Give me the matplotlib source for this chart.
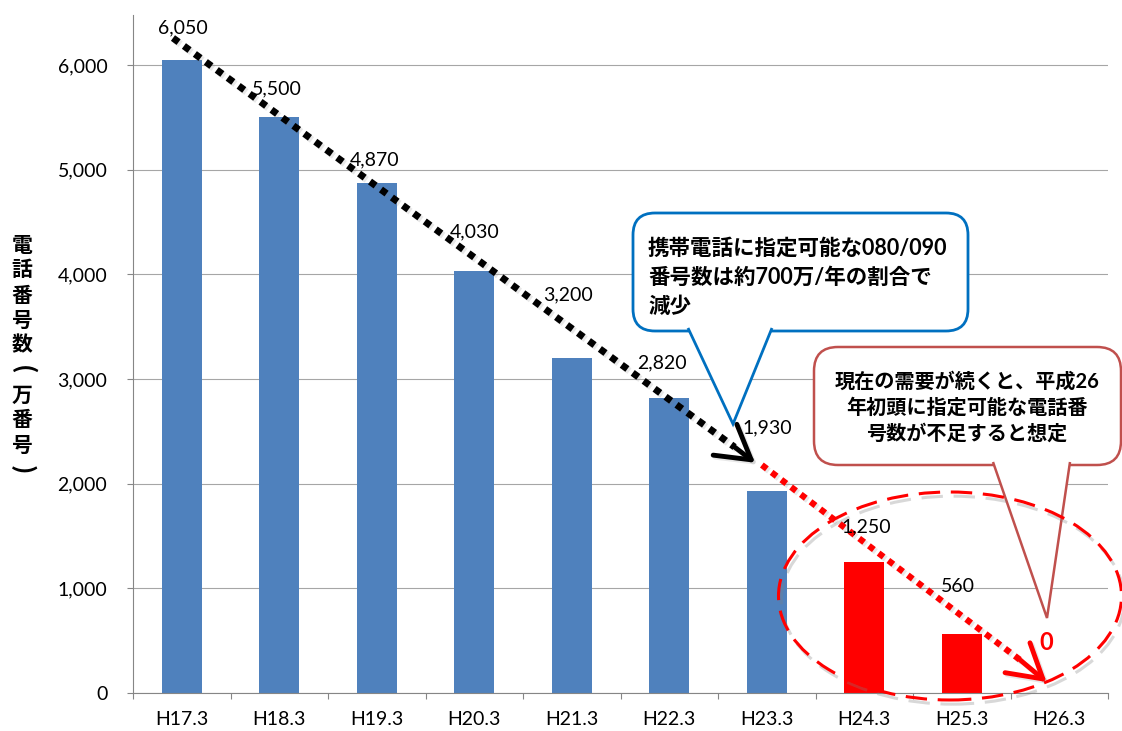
import matplotlib
matplotlib.use("Agg")
import matplotlib.pyplot as plt
import matplotlib.patheffects as pe
from matplotlib.patches import FancyBboxPatch, Polygon, Ellipse
from matplotlib.transforms import IdentityTransform
import numpy as np

YEARS = ["H17.3", "H18.3", "H19.3", "H20.3", "H21.3",
         "H22.3", "H23.3", "H24.3", "H25.3", "H26.3"]
VALUES = [6050, 5500, 4870, 4030, 3200, 2820, 1930, 1250, 560, 0]
FORECAST = [False] * 7 + [True] * 3
# label placement, pixels relative to bar top (labels were moved by hand)
LABEL_DY = [32, 28, 23, 39, 63, 35, 63, 35, 48, 50]
LABEL_DX = [1, -2, -2, 0, -4, -7, 1, 2, -4, -13]

YLABEL = "電話番号数(万番号)"
NOTE_BLUE = ["携帯電話に指定可能な080/090", "番号数は約700万/年の割合で", "減少"]
NOTE_RED = ["現在の需要が続くと、平成26", "年初頭に指定可能な電話番", "号数が不足すると想定"]

# trend arrows (data coords): start of dots, end of dots, arrow tip
TREND_HIST = [(-0.09, 6258), (5.67, 2350), (5.88, 2200)]
TREND_FCST = [(5.95, 2178), (8.60, 315), (8.87, 105)]

BLUE, RED = "#4F81BD", "#FF0000"
GRID_C, AXIS_C = "#A6A6A6", "#868686"
W, H = 1122, 731

plt.rcParams.update({
    "font.family": ["Lato", "Noto Sans CJK JP", "DejaVu Sans"],
    "font.size": 14,
})

fig = plt.figure(figsize=(W / 100, H / 100), dpi=100)
ax = fig.add_axes([133 / W, 38 / H, 975 / W, 678 / H])

x = np.arange(len(YEARS))
ax.bar(x, VALUES, width=0.41, color=[RED if f else BLUE for f in FORECAST], zorder=2)

ax.set_xlim(-0.5, len(YEARS) - 0.5)
ax.set_ylim(0, 6478)
ax.set_yticks(range(0, 6001, 1000))
ax.set_yticklabels([f"{v:,}" for v in range(0, 6001, 1000)])
ax.yaxis.grid(True, color=GRID_C, lw=0.8)
ax.set_axisbelow(True)
for s in ("top", "right"):
    ax.spines[s].set_visible(False)
for s in ("left", "bottom"):
    ax.spines[s].set_color(AXIS_C)
    ax.spines[s].set_linewidth(0.8)
ax.set_xticks(x)
ax.set_xticklabels(YEARS)
ax.set_xticks(np.arange(-0.5, len(YEARS)), minor=True)
ax.tick_params(axis="x", which="major", length=0, pad=13)
ax.tick_params(axis="x", which="minor", length=4.5, color=AXIS_C, width=0.8)
ax.tick_params(axis="y", length=4.5, color=AXIS_C, width=0.8, pad=14)

# data labels
for i, v in enumerate(VALUES):
    ax.annotate(f"{v:,}", (i, v), xytext=(LABEL_DX[i] * 0.72, LABEL_DY[i] * 0.72),
                textcoords="offset points", ha="center", va="center",
                color=RED if v == 0 else "black",
                fontsize=17 if v == 0 else 14,
                fontweight="bold" if v == 0 else "normal", zorder=6)

# dotted trend arrows
shadow = [pe.SimpleLineShadow(offset=(1.5, -1.5), shadow_color="gray", alpha=0.18), pe.Normal()]
for pts, col, lw in ((TREND_HIST, "black", 5.0), (TREND_FCST, RED, 4.5)):
    (x0, y0), (x1, y1), tip = pts
    ax.plot([x0, x1], [y0, y1], color=col, lw=lw, zorder=4,
            dashes=(1, 0.95), dash_capstyle="butt", path_effects=shadow)
    ax.annotate("", xy=tip, xytext=(x1, y1), zorder=4,
                arrowprops=dict(arrowstyle="->,head_length=1.7,head_width=1.0",
                                color=col, lw=3.5, shrinkA=0, shrinkB=0,
                                path_effects=shadow))

# y label, stacked vertically (brackets turned for vertical writing)
for k, ch in enumerate(YLABEL):
    is_br = ch in "()"
    fig.text(22, H - (245 + 25 * k), ch, transform=IdentityTransform(),
             ha="center", va="center", fontsize=18 if is_br else 15,
             fontweight="bold", rotation=-90 if is_br else 0,
             family=["Noto Sans CJK JP"])


def callout(x0, y0, x1, y1, tail, color, lw, r):
    t = IdentityTransform()
    fig.add_artist(FancyBboxPatch((x0, H - y1), x1 - x0, y1 - y0,
                                  boxstyle=f"round,pad=0,rounding_size={r}",
                                  transform=t, fc="white", ec=color, lw=lw, zorder=3))
    bx0, bx1, tx, ty = tail
    fig.add_artist(Polygon([(bx0, H - y1 + 3), (tx, H - ty), (bx1, H - y1 + 3)],
                           closed=False, transform=t, fc="white", ec=color,
                           lw=lw, zorder=3.1, joinstyle="miter"))


callout(633, 213, 968, 331, (688, 772, 733, 424), "#0070C0", 2.0, 22)
callout(814, 347, 1121, 465, (993, 1070, 1047, 618), "#C0504D", 1.8, 24)

for k, line in enumerate(NOTE_BLUE):
    fig.text(648, H - (248 + 29 * k), line, transform=IdentityTransform(),
             ha="left", va="center", fontsize=15.5, fontweight="bold", zorder=4)
for k, line in enumerate(NOTE_RED):
    fig.text(967, H - (382 + 26 * k), line, transform=IdentityTransform(),
             ha="center", va="center", fontsize=14.5, fontweight="bold", zorder=4)

# dashed red ellipse around the forecast
fig.add_artist(Ellipse((950, H - 596), 343, 208, transform=IdentityTransform(),
                       fill=False, ec=RED, lw=2.2, linestyle=(0, (7, 3.5)), zorder=5,
                       path_effects=[pe.SimpleLineShadow(offset=(2, -3), shadow_color="gray",
                                                         alpha=0.3), pe.Normal()]))

fig.savefig("out.png", dpi=100)
